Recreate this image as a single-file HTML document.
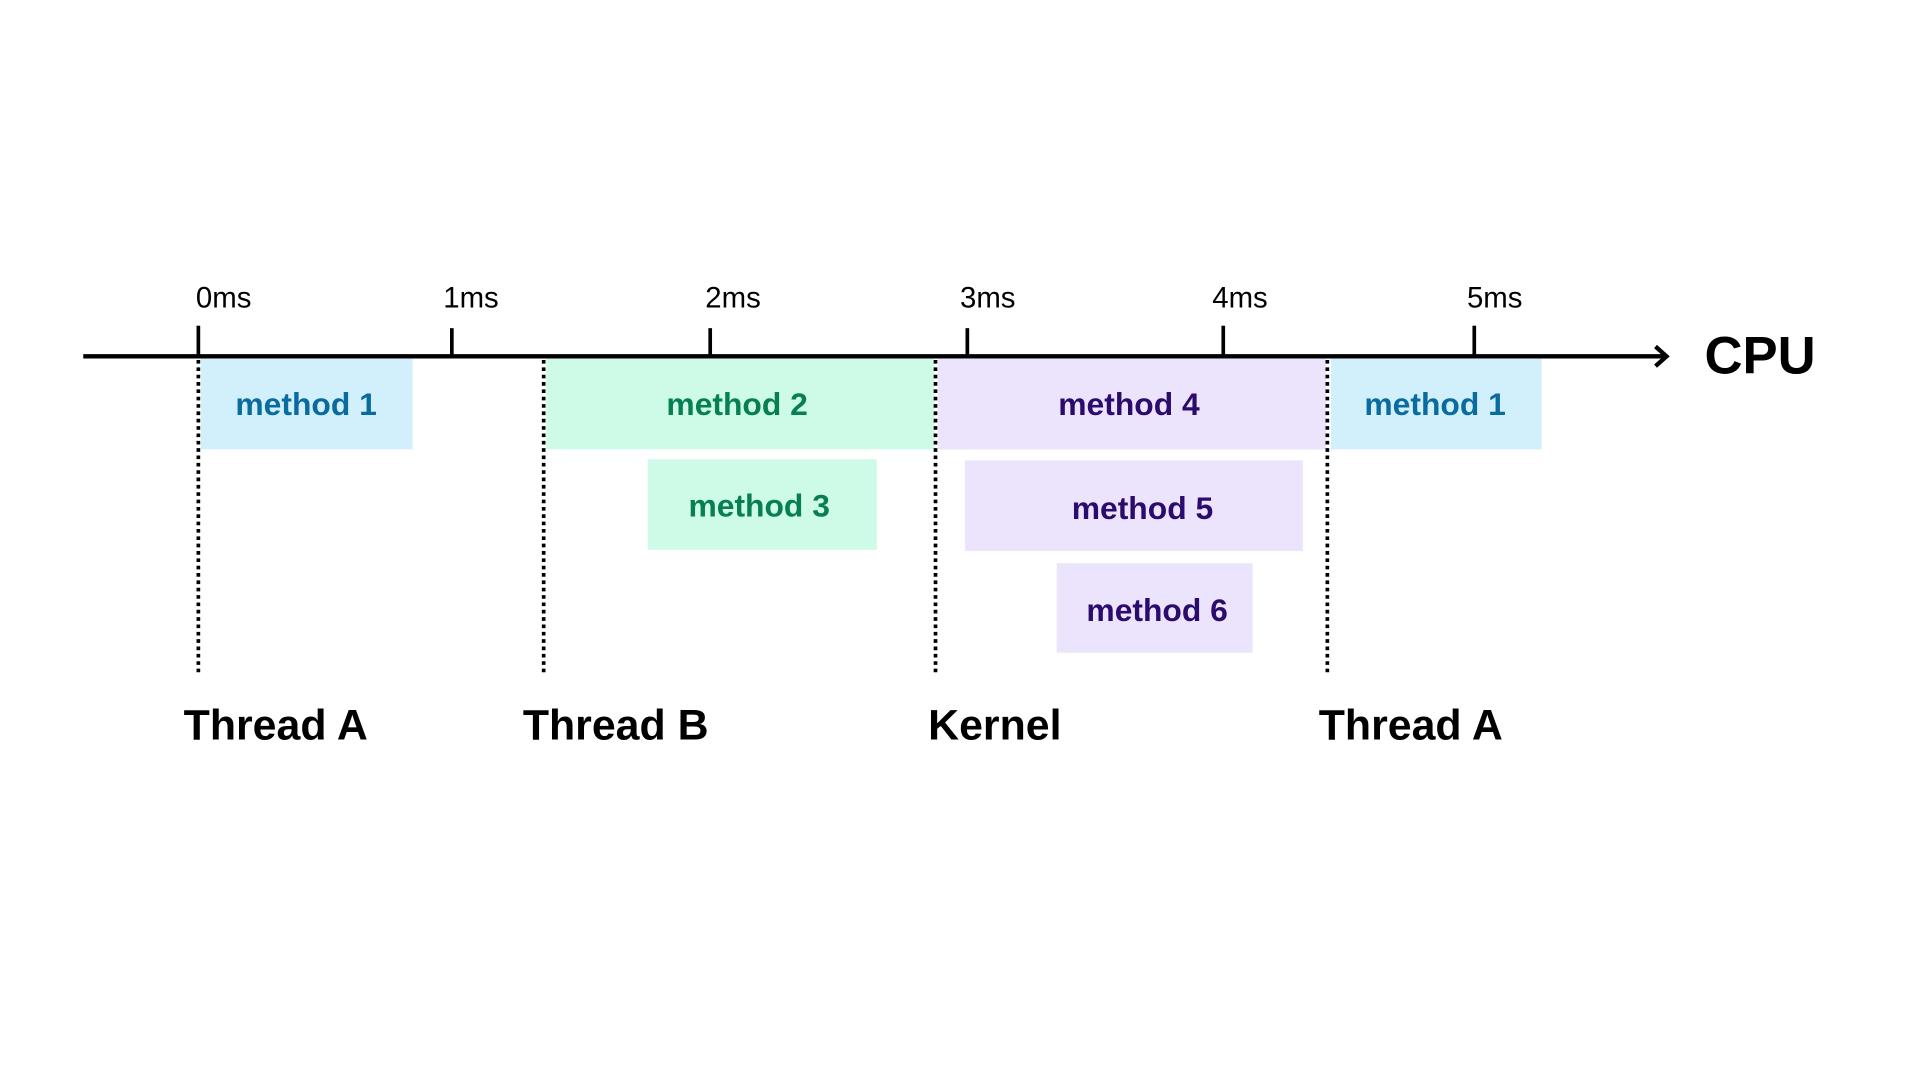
<!DOCTYPE html>
<html><head><meta charset="utf-8"><style>
html,body{margin:0;padding:0;background:#fff;width:1920px;height:1080px;overflow:hidden}
svg{display:block}
text{font-family:"Liberation Sans",sans-serif}
</style></head><body>
<svg width="1920" height="1080" viewBox="0 0 1568 882" xmlns="http://www.w3.org/2000/svg">
<rect x="164" y="293" width="173" height="74" fill="#d2effc"/>
<rect x="446" y="293" width="317" height="74" fill="#cefbe8"/>
<rect x="766" y="293" width="317" height="74" fill="#ece4fd"/>
<rect x="1087" y="293" width="172" height="74" fill="#d2effc"/>
<rect x="529" y="375" width="187" height="74" fill="#cefbe8"/>
<rect x="788" y="376" width="276" height="74" fill="#ece4fd"/>
<rect x="863" y="460" width="160" height="73" fill="#ece4fd"/>
<g stroke="#000" stroke-width="3" stroke-dasharray="3 3">
<line x1="162" y1="294" x2="162" y2="549"/>
<line x1="444" y1="294" x2="444" y2="549"/>
<line x1="764" y1="294" x2="764" y2="549"/>
<line x1="1084" y1="294" x2="1084" y2="549"/>
</g>
<line x1="68" y1="291" x2="1360" y2="291" stroke="#000" stroke-width="3.5"/>
<polyline points="1352,283 1361,291 1352,299" fill="none" stroke="#000" stroke-width="3.5"/>
<g stroke="#000" stroke-width="3">
<line x1="162" y1="266" x2="162" y2="291"/>
<line x1="369" y1="268" x2="369" y2="291"/>
<line x1="580" y1="268" x2="580" y2="291"/>
<line x1="790" y1="268" x2="790" y2="291"/>
<line x1="999" y1="266" x2="999" y2="291"/>
<line x1="1204" y1="266" x2="1204" y2="291"/>
</g>
<g font-size="24" fill="#000">
<text x="160" y="251">0ms</text>
<text x="362" y="251">1ms</text>
<text x="576" y="251">2ms</text>
<text x="784" y="251">3ms</text>
<text x="990" y="251">4ms</text>
<text x="1198" y="251">5ms</text>
</g>
<text x="1392" y="305" font-size="43" font-weight="bold" fill="#000">CPU</text>
<g font-size="26" text-anchor="middle" font-weight="bold">
<text x="250" y="339" fill="#0a6c9e">method 1</text>
<text x="602" y="339" fill="#077f4f">method 2</text>
<text x="922" y="339" fill="#2b0b6b">method 4</text>
<text x="1172" y="339" fill="#0a6c9e">method 1</text>
<text x="620" y="422" fill="#077f4f">method 3</text>
<text x="933" y="424" fill="#2b0b6b">method 5</text>
<text x="945" y="507" fill="#2b0b6b">method 6</text>
</g>
<g font-size="35" fill="#000" font-weight="bold">
<text x="150" y="604">Thread A</text>
<text x="427" y="604">Thread B</text>
<text x="758" y="604">Kernel</text>
<text x="1077" y="604">Thread A</text>
</g>
</svg>
</body></html>
